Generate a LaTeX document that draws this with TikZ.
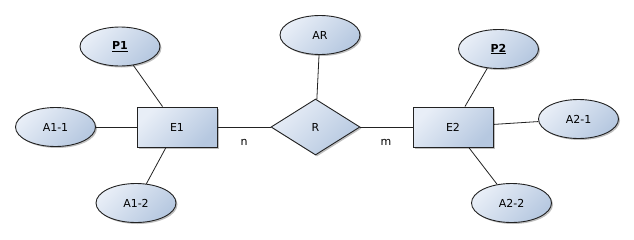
\documentclass[tikz,border=0pt]{standalone}
\usepackage{fontspec}
\setmainfont{DejaVu Sans}
\usetikzlibrary{shapes.geometric,shadows}
\definecolor{lightfill}{HTML}{E8EEF7}
\definecolor{darkfill}{HTML}{B6C8E0}
\definecolor{edgecol}{HTML}{222222}
\tikzset{
  shaded/.style={draw=edgecol, line width=0.9pt, top color=lightfill, bottom color=darkfill, shading angle=45,
    drop shadow={shadow xshift=1.5pt, shadow yshift=-1.5pt, fill=black, opacity=0.25}},
  entity/.style={shaded, rectangle, minimum width=80pt, minimum height=40pt, inner sep=0pt},
  attr/.style={shaded, ellipse, minimum width=80pt, minimum height=39pt, inner sep=0pt},
  rel/.style={shaded, diamond, minimum width=89pt, minimum height=56pt, inner sep=0pt},
  conn/.style={draw=edgecol, line width=0.8pt},
  card/.style={inner sep=0pt},
}
\begin{document}
\begin{tikzpicture}[x=1pt, y=-1pt, font=\fontsize{11}{13}\selectfont]
\useasboundingbox (0,0) rectangle (634,239);
\node[entity] (E1) at (177,127) {E1};
\node[entity] (E2) at (453,127) {E2};
\node[rel] (R) at (315.5,127) {R};
\node[attr] (P1) at (120,46.5) {\underline{\textbf{P1}}};
\node[attr] (A11) at (55.5,127) {A1-1};
\node[attr] (A12) at (136,203) {A1-2};
\node[attr] (AR) at (320,35) {AR};
\node[attr] (P2) at (498.5,49) {\underline{\textbf{P2}}};
\node[attr] (A21) at (578.5,119) {A2-1};
\node[attr] (A22) at (511.5,203) {A2-2};
\node[card] (n) at (244,142) {n};
\node[card] (m) at (386,142) {m};
\draw[conn] (P1) -- (E1);
\draw[conn] (A11) -- (E1);
\draw[conn] (A12) -- (E1);
\draw[conn] (E1) -- (R);
\draw[conn] (AR) -- (R);
\draw[conn] (R) -- (E2);
\draw[conn] (P2) -- (E2);
\draw[conn] (A21) -- (E2);
\draw[conn] (A22) -- (E2);
\end{tikzpicture}
\end{document}
